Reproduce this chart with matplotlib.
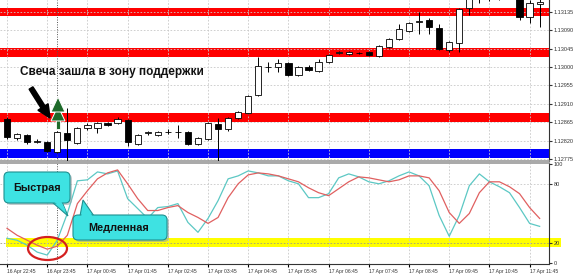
import numpy as np
import matplotlib.pyplot as plt
from matplotlib.patches import FancyBboxPatch, Polygon, Ellipse, FancyArrow, Rectangle

plt.rcParams['font.family'] = ['Liberation Sans', 'DejaVu Sans']

# EURUSD M15 candles, 16 Apr 22:45 .. 17 Apr 12:00
opens = [1.12873, 1.12827, 1.12834, 1.12817, 1.12817, 1.12793, 1.12839, 1.12815, 1.12851, 1.12851,
         1.12863, 1.12863, 1.12871, 1.12812, 1.12839, 1.12834, 1.12841, 1.12841, 1.12841, 1.12812,
         1.12824, 1.12861, 1.12849, 1.12876, 1.12888, 1.12932, 1.13001, 1.13000, 1.13010, 1.12981,
         1.13000, 1.12991, 1.13013, 1.13035, 1.13032, 1.13035, 1.13037, 1.13027, 1.13049, 1.13069,
         1.13089, 1.13111, 1.13115, 1.13096, 1.13042, 1.13059, 1.13145, 1.13180, 1.13205, 1.13190,
         1.13178, 1.13172, 1.13123, 1.13155]
highs = [1.12878, 1.12839, 1.12837, 1.12824, 1.12819, 1.12844, 1.12900, 1.12854, 1.12863, 1.12866,
         1.12866, 1.12878, 1.12873, 1.12837, 1.12844, 1.12844, 1.12849, 1.12859, 1.12844, 1.12829,
         1.12866, 1.12876, 1.12878, 1.12893, 1.12932, 1.13025, 1.13013, 1.13020, 1.13013, 1.13003,
         1.13005, 1.13020, 1.13032, 1.13040, 1.13040, 1.13037, 1.13040, 1.13054, 1.13071, 1.13106,
         1.13111, 1.13135, 1.13120, 1.13106, 1.13064, 1.13145, 1.13200, 1.13215, 1.13220, 1.13200,
         1.13190, 1.13179, 1.13164, 1.13167]
lows = [1.12824, 1.12822, 1.12812, 1.12815, 1.12793, 1.12790, 1.12768, 1.12812, 1.12846, 1.12839,
        1.12856, 1.12861, 1.12807, 1.12810, 1.12834, 1.12832, 1.12837, 1.12827, 1.12810, 1.12810,
        1.12822, 1.12768, 1.12844, 1.12873, 1.12886, 1.12930, 1.12988, 1.12988, 1.12978, 1.12978,
        1.12991, 1.12988, 1.13010, 1.13032, 1.13030, 1.13032, 1.13027, 1.13025, 1.13047, 1.13067,
        1.13086, 1.13081, 1.13081, 1.13042, 1.13037, 1.13037, 1.13128, 1.13157, 1.13162, 1.13164,
        1.13168, 1.13115, 1.13108, 1.13098]
closes = [1.12829, 1.12837, 1.12817, 1.12818, 1.12795, 1.12841, 1.12822, 1.12851, 1.12859, 1.12863,
          1.12859, 1.12873, 1.12817, 1.12834, 1.12840, 1.12841, 1.12842, 1.12840, 1.12812, 1.12827,
          1.12863, 1.12849, 1.12876, 1.12890, 1.12930, 1.13003, 1.13000, 1.13010, 1.12981, 1.13000,
          1.12993, 1.13013, 1.13030, 1.13036, 1.13037, 1.13034, 1.13030, 1.13052, 1.13069, 1.13093,
          1.13108, 1.13113, 1.13098, 1.13044, 1.13062, 1.13142, 1.13177, 1.13200, 1.13185, 1.13175,
          1.13172, 1.13123, 1.13157, 1.13159]

# stochastic: fast (%K) and slow (%D)
fast = [25, 23, 18, 11, 8, 23, 50, 83, 84, 92, 90, 93, 65, 55, 45, 56, 57, 60, 41, 31,
        45, 63, 85, 88, 93, 91, 88, 88, 83, 80, 66, 66, 70, 86, 90, 87, 82, 80, 83,
        88, 92, 88, 78, 48, 27, 48, 78, 90, 82, 77, 71, 56, 40, 37]
slow = [35, 28, 23, 18, 14, 17, 28, 60, 73, 85, 91, 94, 80, 65, 53, 53, 56, 58, 51, 46,
        40, 46, 66, 80, 89, 91, 90, 88, 85, 82, 76, 71, 68, 75, 82, 87, 86, 84, 82,
        84, 88, 88, 86, 73, 51, 40, 50, 71, 82, 82, 77, 70, 56, 45]

time_labels = ['16 Apr 22:45', '16 Apr 23:45', '17 Apr 00:45', '17 Apr 01:45', '17 Apr 02:45',
               '17 Apr 03:45', '17 Apr 04:45', '17 Apr 05:45', '17 Apr 06:45', '17 Apr 07:45',
               '17 Apr 08:45', '17 Apr 09:45', '17 Apr 10:45', '17 Apr 11:45']
price_ticks = [1.13135, 1.13090, 1.13045, 1.13000, 1.12955, 1.12910, 1.12865, 1.12820, 1.12775]
stoch_ticks = [0, 20, 80, 100]

# support / resistance zones
zone_lo = [1.13125, 1.13025, 1.12866, 1.12778]
zone_hi = [1.13145, 1.13047, 1.12888, 1.12800]
zone_colors = ['#ff0000', '#ff0000', '#ff0000', '#0000ff']

signal_bar = 5

W, H = 579, 274
def box(x0, y0, x1, y1):
    return [x0 / W, 1 - y1 / H, (x1 - x0) / W, (y1 - y0) / H]

fig = plt.figure(figsize=(W / 100, H / 100), dpi=100)
ax1 = fig.add_axes(box(0, 0, 549, 161))
ax2 = fig.add_axes(box(0, 163, 549, 264))

xs = np.arange(len(opens))
o = np.array(opens); c = np.array(closes)
grid_kw = dict(color='#c8c8c8', linestyle=(0, (2, 2)), linewidth=0.6)

# ---- price panel
for lo, hi, col in zip(zone_lo, zone_hi, zone_colors):
    ax1.axhspan(lo, hi, color=col, lw=0, zorder=1)
ax1.vlines(xs, lows, highs, color='black', lw=0.7, zorder=3)
body_lo = np.minimum(o, c)
body_h = np.maximum(np.abs(c - o), 0.000003)
cols = ['white' if cc >= oo else 'black' for oo, cc in zip(o, c)]
ax1.bar(xs, body_h, bottom=body_lo, width=0.62, color=cols, edgecolor='black', lw=0.6, zorder=4)
ax1.axvline(signal_bar, color='#555555', ls=(0, (1, 1.5)), lw=0.7, zorder=2)

ax1.set_xlim(-0.7, 53.93)
ax1.set_ylim(1.12770, 1.13164)
ax1.set_yticks(price_ticks)
ax1.set_yticklabels(['%.5f' % p for p in price_ticks])
ax1.set_xticks(xs[::4])
ax1.grid(True, **grid_kw)
ax1.yaxis.tick_right()
ax1.tick_params(axis='y', labelsize=4, length=2, pad=1.5, colors='#333333')
ax1.tick_params(axis='x', length=0, labelbottom=False)

# ---- stochastic panel
ax2.axhspan(16, 25, xmin=6 / 549, xmax=561 / 549, color='#ffff00', lw=0, zorder=0.5, clip_on=False)
for lvl in (20, 80):
    ax2.axhline(lvl, color='#c8c8c8' if lvl == 80 else '#a0a080', ls=(0, (2, 2)), lw=0.6, zorder=1)
ax2.plot(xs, fast, color='#5cc8c4', lw=0.9, zorder=3)
ax2.plot(xs, slow, color='#e06060', lw=0.9, zorder=3)
ax2.axvline(signal_bar, color='#555555', ls=(0, (1, 1.5)), lw=0.7, zorder=2)

ax2.set_xlim(-0.7, 53.93)
ax2.set_ylim(-1, 101)
ax2.set_xticks(xs[::4])
ax2.set_xticklabels(time_labels, ha='left', fontsize=3.6, color='#333333')
ax2.grid(True, axis='x', **grid_kw)
ax2.set_yticks(stoch_ticks)
ax2.yaxis.tick_right()
ax2.tick_params(axis='y', labelsize=4, length=2, pad=1.5, colors='#333333')
ax2.tick_params(axis='x', length=2, pad=1.5)

for ax in (ax1, ax2):
    ax.spines['left'].set_visible(False)
    ax.spines['right'].set_color('#333333')
    ax.spines['right'].set_linewidth(0.8)
ax1.spines['top'].set_visible(False)
ax1.spines['bottom'].set_color('#999999')
ax1.spines['bottom'].set_linewidth(1.2)
ax2.spines['top'].set_color('#999999')
ax2.spines['top'].set_linewidth(1.2)
ax2.spines['bottom'].set_color('#333333')
ax2.spines['bottom'].set_linewidth(0.8)

# ---- annotations in pixel coordinates
ov = fig.add_axes([0, 0, 1, 1])
ov.set_xlim(0, W)
ov.set_ylim(H, 0)
ov.axis('off')
ov.patch.set_alpha(0)

ov.text(112, 72, 'Свеча зашла в зону поддержки', ha='center', va='center',
        fontsize=8.5, fontweight='bold', color='#111111')

# black pointer arrow
ov.add_patch(FancyArrow(33, 91, 17, 27, width=4.5, head_width=12, head_length=13,
                        length_includes_head=True, color='#888888', alpha=0.5))
ov.add_patch(FancyArrow(31, 88, 19, 30, width=4.5, head_width=12, head_length=13,
                        length_includes_head=True, color='black'))

# green buy arrow over the signal candle
green = '#1e6a2a'
ov.add_patch(Rectangle((56, 117), 4, 12, fc=green, ec='white', lw=0.6))
ov.add_patch(Polygon([(58, 106), (51, 121), (65, 121)], fc=green, ec='white', lw=0.7))
ov.add_patch(Polygon([(58, 97), (51, 112), (65, 112)], fc=green, ec='white', lw=0.7))

# callouts
cyan_fc, cyan_ec = '#3ee2e2', '#1f9090'
ov.add_patch(FancyBboxPatch((6, 174), 66, 31, boxstyle='round,pad=0,rounding_size=5',
                            fc='#9aa8aa', ec='none', alpha=0.6))
ov.add_patch(Polygon([(52, 202), (62, 202), (68, 216)], fc=cyan_fc, ec=cyan_ec, lw=0.8))
ov.add_patch(FancyBboxPatch((4, 172), 66, 31, boxstyle='round,pad=0,rounding_size=5',
                            fc=cyan_fc, ec=cyan_ec, lw=0.8))
ov.add_patch(Polygon([(53, 201), (61, 201), (66, 211)], fc=cyan_fc, ec='none'))
ov.text(37, 188, 'Быстрая', ha='center', va='center', fontsize=7.8, fontweight='bold', color='#111111')

ov.add_patch(FancyBboxPatch((75, 217), 94, 25, boxstyle='round,pad=0,rounding_size=5',
                            fc='#9aa8aa', ec='none', alpha=0.6))
ov.add_patch(Polygon([(80, 216), (94, 216), (83, 200)], fc=cyan_fc, ec=cyan_ec, lw=0.8))
ov.add_patch(FancyBboxPatch((73, 215), 94, 25, boxstyle='round,pad=0,rounding_size=5',
                            fc=cyan_fc, ec=cyan_ec, lw=0.8))
ov.add_patch(Polygon([(81, 217), (93, 217), (84, 204)], fc=cyan_fc, ec='none'))
ov.text(119, 228, 'Медленная', ha='center', va='center', fontsize=7.8, fontweight='bold', color='#111111')

ov.add_patch(Ellipse((47.5, 248.5), 39, 23, fill=False, ec='#d42020', lw=1.6))

fig.savefig('out.png', dpi=100)
